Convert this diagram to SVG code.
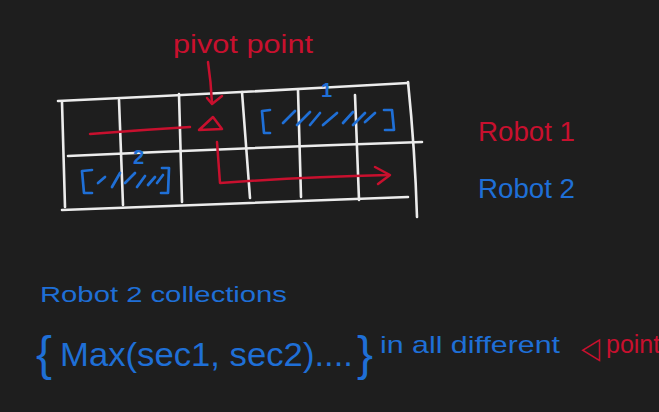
<svg xmlns="http://www.w3.org/2000/svg" width="659" height="412" viewBox="0 0 659 412">
<style>
.grid{fill:none;stroke:#ececec;stroke-width:2.6;stroke-linecap:round;stroke-linejoin:round}
.red{fill:none;stroke:#c8102e;stroke-width:2.5;stroke-linecap:round;stroke-linejoin:round}
.blue{fill:none;stroke:#1f6fd6;stroke-width:2.7;stroke-linecap:round;stroke-linejoin:round}
.tr{fill:#c8102e;font-family:"Liberation Sans","DejaVu Sans",sans-serif}
.tb{fill:#1f6fd6;font-family:"Liberation Sans","DejaVu Sans",sans-serif}
</style>
<rect width="659" height="412" fill="#1e1e1e"/>
<g id="grid">
<path class="grid" d="M58,101 Q230,93 408,83"/>
<path class="grid" d="M68,156 Q240,148 422,142"/>
<path class="grid" d="M62,210 Q235,203 408,197"/>
<path class="grid" d="M62,102 L65,207"/>
<path class="grid" d="M119,100 L123,205"/>
<path class="grid" d="M179,94 L182,202"/>
<path class="grid" d="M242,92 L250,198"/>
<path class="grid" d="M298,90 L301,197"/>
<path class="grid" d="M355,95 L359,200"/>
<path class="grid" d="M408,82 Q415,150 417,217"/>
</g>
<g id="pivot-marker">
<path class="red" d="M199,130 L213,117 L222,129 Z"/>
</g>
<g id="robot1-section">
<path class="blue" d="M270,110 L262,111 L264,133 L270,133"/>
<path class="blue" d="M283,123 L295,111 M297,125 L310,112 M310,125 L320,113 M323,125 L337,113 M343,123 L353,112 M353,125 L365,113 M365,122 L375,113"/>
<path class="blue" d="M384,110 L392,110 L394,130 L385,130"/>
<text class="tb" x="321" y="97" font-size="20" font-weight="bold">1</text>
</g>
<g id="robot2-section">
<path class="blue" d="M92,170 L82,171 L84,193 L92,193"/>
<path class="blue" d="M98,183 L105,177 M112,187 L120,173 M125,183 L135,173 M137,187 L145,176 M148,185 L155,177 M157,183 L163,175"/>
<path class="blue" d="M162,168 L169,168 L168,193 L161,193"/>
<text class="tb" x="133" y="164" font-size="20" font-weight="bold">2</text>
</g>
<g id="connectors">
<path class="red" d="M90,134 Q140,130 190,127"/>
<path class="red" d="M208,62 Q211,82 212,103"/>
<path class="red" d="M207,98 L212,104 L222,96"/>
<path class="red" d="M217,142 L220,183 Q300,177 388,175"/>
<path class="red" d="M375,167 L390,175 L378,184"/>
</g>
<g id="label-pivot">
<text class="tr" x="173" y="53" font-size="25" textLength="140" lengthAdjust="spacingAndGlyphs">pivot point</text>
</g>
<g id="legend-robot1">
<text class="tr" x="478" y="141" font-size="27" textLength="97" lengthAdjust="spacingAndGlyphs">Robot 1</text>
</g>
<g id="legend-robot2">
<text class="tb" x="478" y="198" font-size="27" textLength="97" lengthAdjust="spacingAndGlyphs">Robot 2</text>
</g>
<g id="collections-title">
<text class="tb" x="40" y="302" font-size="22" textLength="247" lengthAdjust="spacingAndGlyphs">Robot 2  collections</text>
</g>
<g id="collections-formula">
<text class="tb" x="36" y="370" font-size="48">{</text>
<text class="tb" x="60" y="366" font-size="33" textLength="293" lengthAdjust="spacingAndGlyphs">Max(sec1,  sec2)....</text>
<text class="tb" x="357" y="370" font-size="48">}</text>
<text class="tb" x="380" y="353" font-size="24" textLength="180" lengthAdjust="spacingAndGlyphs">in all different</text>
<text class="tr" x="581" y="358" font-size="30" font-family="DejaVu Sans,sans-serif" textLength="19" lengthAdjust="spacingAndGlyphs">◁</text>
<text class="tr" x="606" y="353" font-size="25">point</text>
</g>
</svg>
